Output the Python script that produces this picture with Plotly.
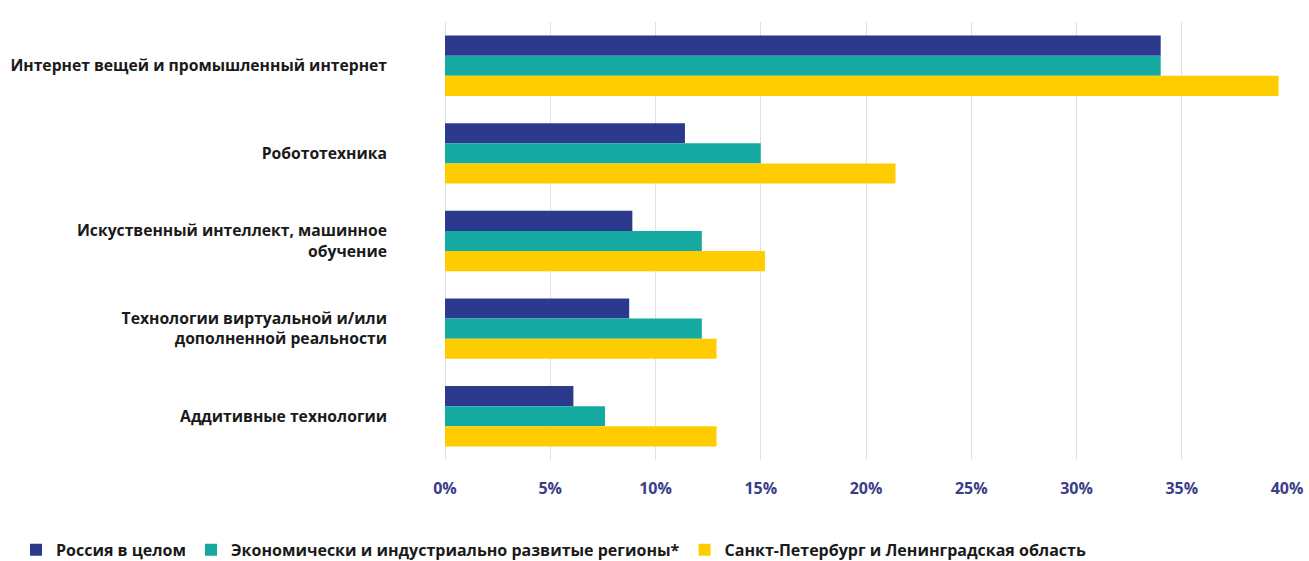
import plotly.graph_objects as go

categories = [
    "Интернет вещей и промышленный интернет",
    "Робототехника",
    "Искуственный интеллект, машинное<br>обучение",
    "Технологии виртуальной и/или<br>дополненной реальности",
    "Аддитивные технологии",
]
series_names = [
    "Россия в целом",
    "Экономически и индустриально развитые регионы*",
    "Санкт-Петербург и Ленинградская область",
]
russia = [34.0, 11.4, 8.9, 8.75, 6.1]
developed = [34.0, 15.0, 12.2, 12.2, 7.6]
spb = [39.6, 21.4, 15.2, 12.9, 12.9]
tick_vals = [0, 5, 10, 15, 20, 25, 30, 35, 40]
tick_text = ["0%", "5%", "10%", "15%", "20%", "25%", "30%", "35%", "40%"]

colors = ["#2b3a8c", "#14aaa1", "#ffcc00"]

fig = go.Figure()
for name, vals, col in zip(series_names, [russia, developed, spb], colors):
    fig.add_trace(go.Bar(
        y=categories, x=vals, name=name, orientation="h",
        marker=dict(color=col, line=dict(width=0)),
    ))

fig.update_layout(
    width=1309, height=561,
    margin=dict(l=445, r=22, t=22, b=101, autoexpand=False),
    barmode="group", bargap=0.31, bargroupgap=0,
    plot_bgcolor="white", paper_bgcolor="white",
    font=dict(family="Open Sans", size=15, color="#1a1a1a"),
    xaxis=dict(
        range=[0, 40], tickvals=tick_vals, ticktext=tick_text,
        showgrid=True, gridcolor="#dfe0ea", gridwidth=1,
        zeroline=True, zerolinecolor="#dfe0ea", zerolinewidth=1,
        tickfont=dict(family="Open Sans", size=16, color="#3a3d8a", weight="bold"),
        ticklabelstandoff=17, automargin=False, fixedrange=True,
    ),
    yaxis=dict(
        autorange="reversed", showgrid=False, automargin=False,
        tickfont=dict(family="Open Sans", size=15.7, color="#1a1a1a", weight="bold"),
        ticklabelstandoff=57,
    ),
    legend=dict(
        orientation="h", x=-0.5095, xanchor="left", y=-0.205, yanchor="middle",
        font=dict(family="Open Sans", size=16, color="#1a1a1a", weight="bold"),
        traceorder="normal",
    ),
    showlegend=True,
)

fig.write_html(
    "out.html",
    config={"displayModeBar": False},
    post_script="document.body.style.margin='0px';document.body.style.overflow='hidden';",
)
